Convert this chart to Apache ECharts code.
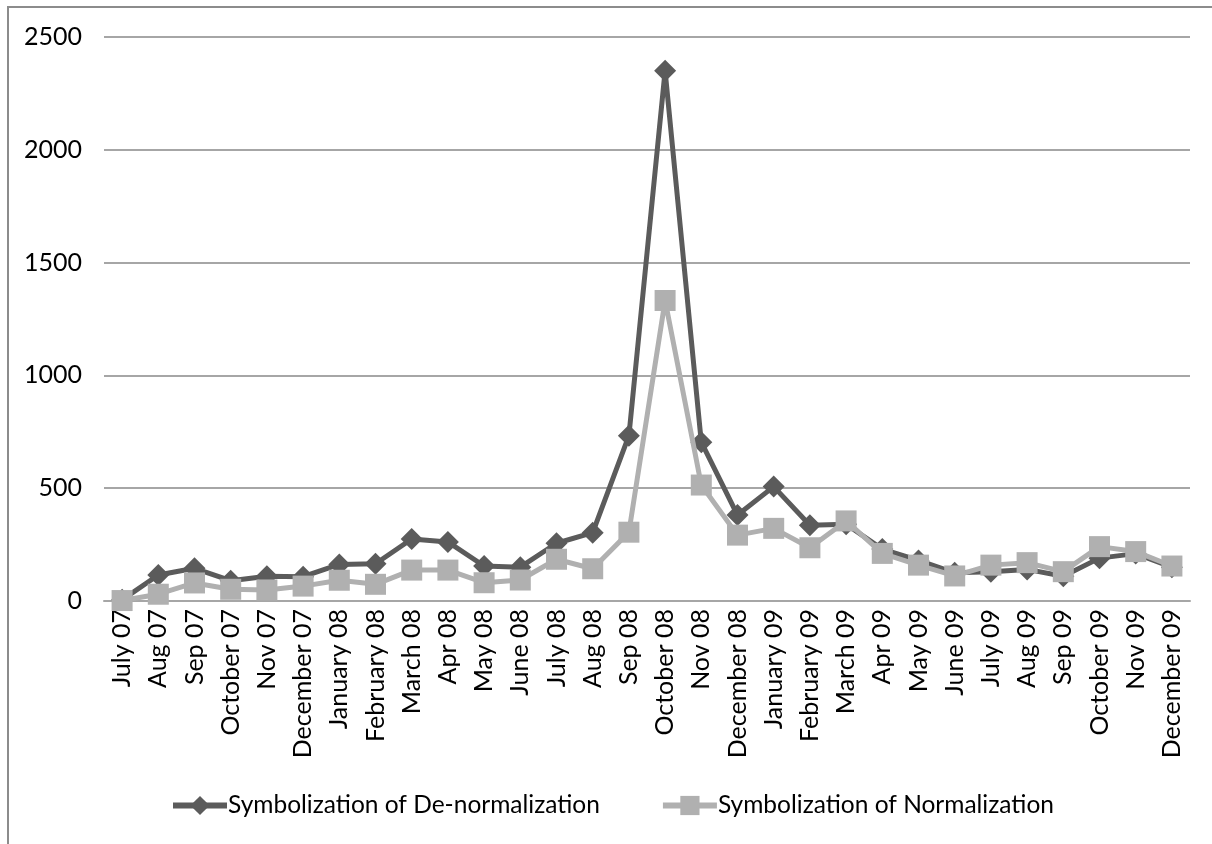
<!DOCTYPE html>
<html><head><meta charset="utf-8">
<script src="https://cdn.jsdelivr.net/npm/echarts@6/dist/echarts.min.js"></script>
<style>html,body{margin:0;padding:0;background:#fff}#c{width:1212px;height:844px}</style>
</head><body><div id="c"></div>
<script>
const categories = ["July 07","Aug 07","Sep 07","October 07","Nov 07","December 07","January 08","February 08","March 08","Apr 08","May 08","June 08","July 08","Aug 08","Sep 08","October 08","Nov 08","December 08","January 09","February 09","March 09","Apr 09","May 09","June 09","July 09","Aug 09","Sep 09","October 09","Nov 09","December 09"];
const deNormalization = [5,115,145,90,110,108,162,165,275,262,155,150,256,303,733,2350,704,381,507,336,340,230,180,125,130,140,110,190,210,150];
const normalization = [2,30,80,52,49,66,92,74,137,137,81,93,185,143,305,1332,514,292,322,236,355,211,159,111,159,170,130,241,219,155];
const yTicks = [0,500,1000,1500,2000,2500];

const chart = echarts.init(document.getElementById('c'), null, {renderer:'canvas'});
const font = 'Lato';
chart.setOption({
  animation:false,
  backgroundColor:'#fff',
  graphic:[{type:'rect',shape:{x:8,y:7,width:1230,height:860},style:{fill:'none',stroke:'#8c8c8c',lineWidth:2},z:-1}],
  grid:{left:104,right:22,top:37,bottom:243,containLabel:false},
  xAxis:{type:'category',data:categories,boundaryGap:true,
    axisLine:{show:true,lineStyle:{color:'#a6a6a6',width:2}},
    axisTick:{show:false},
    axisLabel:{rotate:90,interval:0,fontFamily:font,fontSize:25,color:'#000',margin:8}},
  yAxis:{type:'value',min:yTicks[0],max:yTicks[yTicks.length-1],interval:500,
    axisLine:{show:false},axisTick:{show:false},
    splitLine:{lineStyle:{color:'#a6a6a6',width:2}},
    axisLabel:{fontFamily:font,fontSize:25,color:'#000',margin:22,formatter:v=>String(v)}},
  legend:{left:165,top:788,itemWidth:54,itemHeight:24,itemGap:60,
    lineStyle:{width:6},
    textStyle:{fontFamily:font,fontSize:24.5,color:'#000',padding:[0,0,0,-4]},
    data:['Symbolization of De-normalization','Symbolization of Normalization']},
  series:[
    {name:'Symbolization of De-normalization',type:'line',data:deNormalization,
     symbol:'diamond',symbolSize:22,color:'#5b5b5b',lineStyle:{width:5,color:'#5b5b5b'},itemStyle:{color:'#5b5b5b'},z:2},
    {name:'Symbolization of Normalization',type:'line',data:normalization,
     symbol:'rect',symbolSize:21,color:'#b0b0b0',lineStyle:{width:5,color:'#b0b0b0'},itemStyle:{color:'#b0b0b0'},z:3}
  ]
});
</script></body></html>
